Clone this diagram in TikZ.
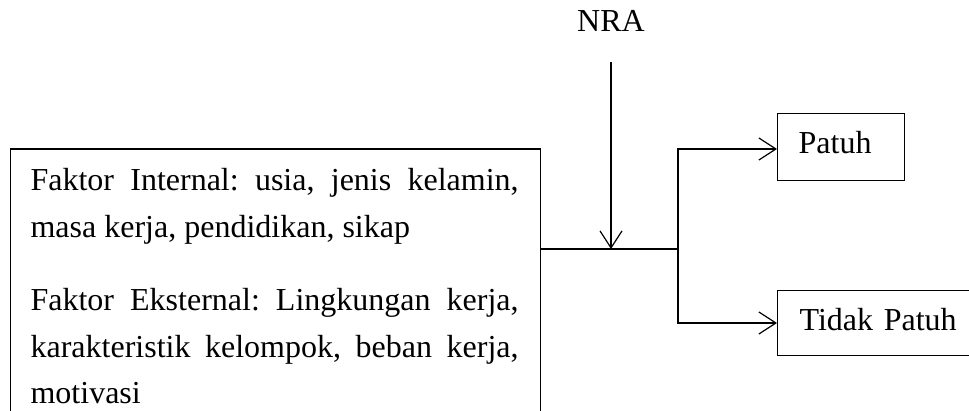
\documentclass[tikz,border=0pt]{standalone}
\usepackage{fontspec}
\setmainfont{Liberation Serif}
\usetikzlibrary{arrows.meta}
\frenchspacing
\begin{document}
\begin{tikzpicture}[x=1pt,y=-1pt,
  line width=1.2pt,
  arr/.style={-{Straight Barb[length=17pt,width=22pt,line width=1.2pt]}},
  outbox/.style={draw, line width=1.2pt, anchor=north west, inner xsep=0pt, inner ysep=0pt, font=\fontsize{32}{40}\selectfont},
  ]
\useasboundingbox (0,0) rectangle (969,411);
\clip (0,0) rectangle (969,411);
\node[draw, line width=1.2pt, anchor=north west, minimum width=530pt, minimum height=300pt, inner sep=0pt, outer sep=0pt] (box) at (10.5,149) {};
\node[anchor=north west, inner sep=0pt, text width=488pt, align=justify, font=\fontsize{32}{46.5}\selectfont] (txt) at (30,168)
 {\setlength\parindent{0pt}\frenchspacing Faktor Internal: usia, jenis kelamin,\linebreak masa kerja, pendidikan, sikap\par\vspace{27pt}Faktor Eksternal: Lingkungan kerja,\linebreak karakteristik kelompok, beban kerja,\linebreak motivasi\par};
\node[anchor=base, inner sep=0pt, font=\fontsize{32}{40}\selectfont] (nra) at (611,32) {NRA};
\node[outbox, minimum width=127pt, minimum height=67pt, text width=127pt, text height=22pt, text depth=9pt, align=left] (patuh) at (777,113) {\hspace*{21pt}Patuh};
\node[outbox, minimum width=200pt, minimum height=65pt, text width=200pt, text height=22pt, text depth=7pt, align=left] (tidak) at (777,290) {\hspace*{22pt}Tidak Patuh};
\coordinate (j) at (678,249);
\coordinate (j1) at (678,149);
\coordinate (j2) at (678,323);
\coordinate (ns) at (611,62);
\draw (box.east |- j) -- (j);
\draw[arr] (ns) -- (ns |- j);
\draw[arr] (j) -- (j1) -- (j1 -| patuh.west);
\draw[arr] (j) -- (j2) -- (j2 -| tidak.west);
\end{tikzpicture}
\end{document}
